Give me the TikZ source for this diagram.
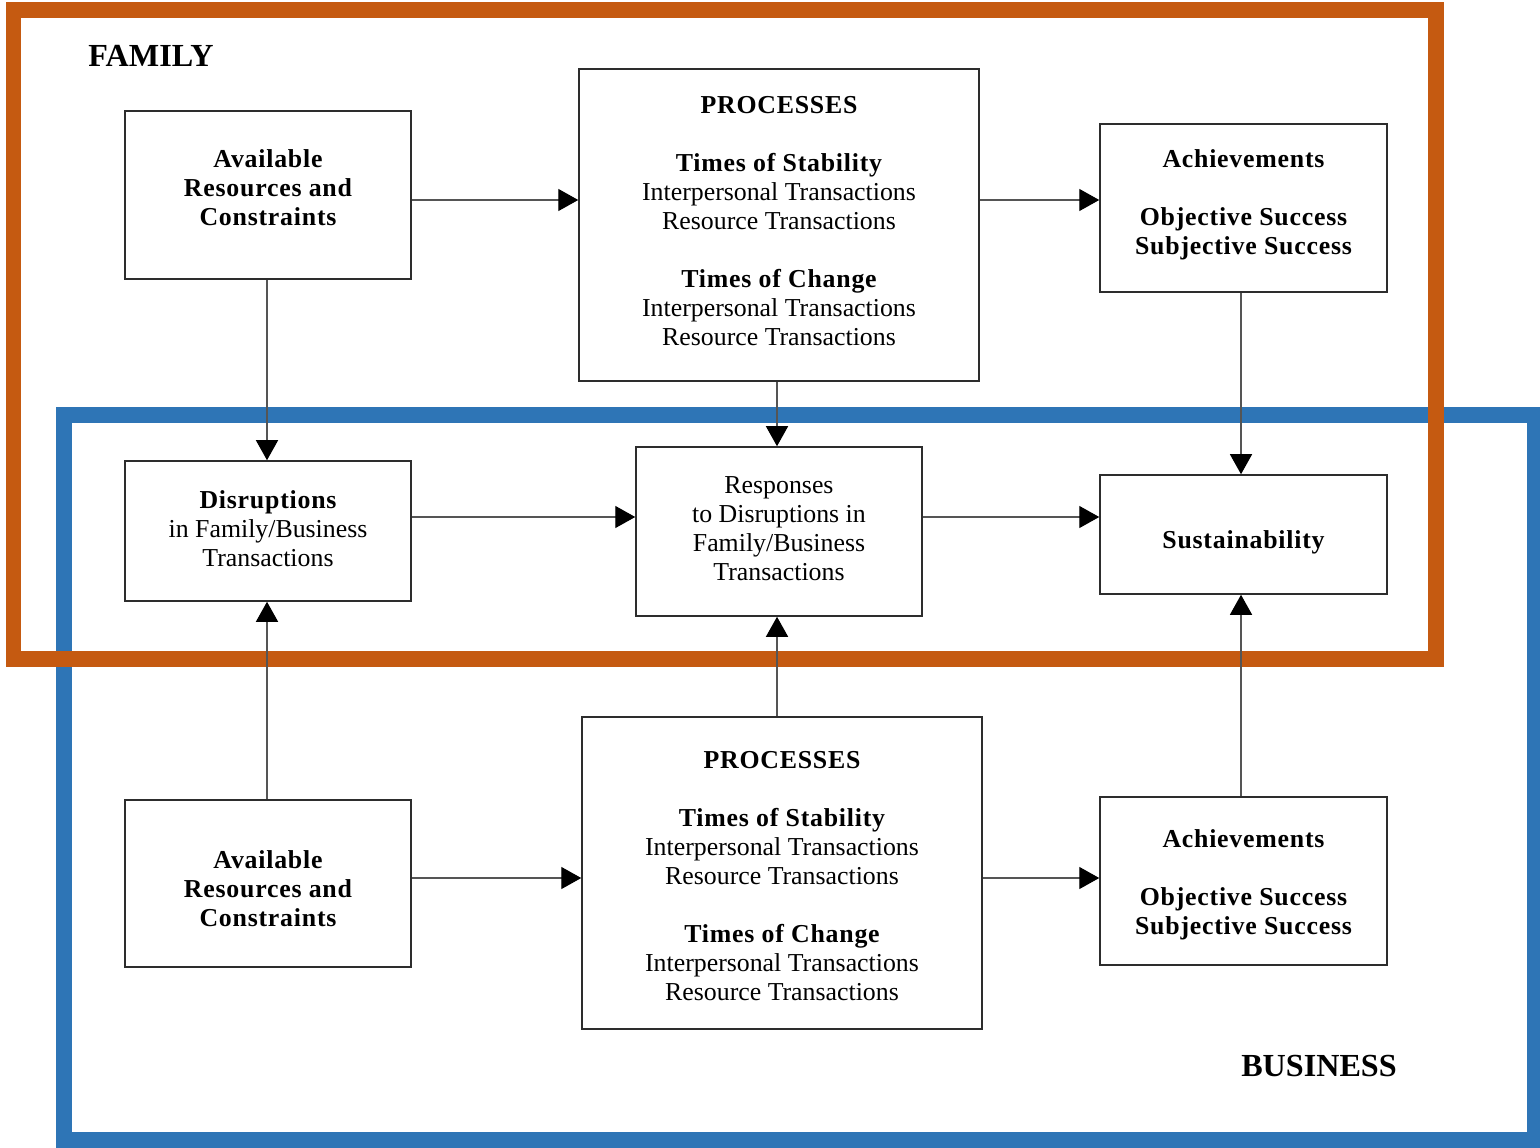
\documentclass[tikz,border=0pt]{standalone}
\usepackage{fontspec}
\setmainfont{Liberation Serif}
\newfontfamily\spfont{Liberation Serif}[LetterSpace=3]
\usetikzlibrary{arrows.meta}
\definecolor{famorange}{RGB}{197,90,17}
\definecolor{busblue}{RGB}{46,117,182}
\definecolor{boxline}{RGB}{45,45,45}
\definecolor{connline}{RGB}{85,85,85}
\newcommand{\bsp}[1]{{\spfont\bfseries #1}}
\newcommand{\padlow}[1]{\rule[-#1]{0pt}{0pt}}
\newcommand{\padhigh}[1]{\rule{0pt}{#1}}
\begin{document}
\begin{tikzpicture}[x=0.02cm,y=-0.02cm,
  box/.style={draw=boxline, line width=0.9pt, align=center, inner sep=0pt, font=\fontsize{14.7}{16.5}\selectfont},
  conn/.style={draw=connline, line width=0.8pt, -{Triangle[length=0.4cm,width=0.44cm,color=black]}},
  frameline/.style={line width=0.32cm},
  title/.style={font=\fontsize{18.3}{20}\selectfont\bfseries, inner sep=0pt}
]
\useasboundingbox (0,0) rectangle (1540,1148);
\fill[white] (0,0) rectangle (1540,1148);

% frames
\draw[busblue, frameline] (64,415) rectangle (1535,1140);
\draw[famorange, frameline] (13.5,10) rectangle (1435.5,658.5);

% titles
\node[title] (family) at (151,56) {FAMILY};
\node[title] (business) at (1319,1066) {BUSINESS};

% family row
\node[box, minimum width=5.72cm, minimum height=3.36cm] (FA) at (268,195)
  {\bsp{Available}\\\bsp{Resources and}\\\bsp{Constraints}\padlow{8pt}};
\node[box, minimum width=8.0cm, minimum height=6.24cm] (FP) at (779,225)
  {\bsp{PROCESSES}\\[16.5pt]\bsp{Times of Stability}\\Interpersonal Transactions\\Resource Transactions\\[16.5pt]\bsp{Times of Change}\\Interpersonal Transactions\\Resource Transactions\padlow{4.5pt}};
\node[box, minimum width=5.74cm, minimum height=3.36cm] (FAch) at (1243.5,208)
  {\bsp{Achievements}\\[16.5pt]\bsp{Objective Success}\\\bsp{Subjective Success}\padlow{6.5pt}};

% middle row
\node[box, minimum width=5.72cm, minimum height=2.8cm] (Dis) at (268,531)
  {\bsp{Disruptions}\\in Family/Business\\Transactions\padlow{2.3pt}};
\node[box, minimum width=5.72cm, minimum height=3.38cm] (Resp) at (779,531.5)
  {Responses\\to Disruptions in\\Family/Business\\Transactions\padlow{3.4pt}};
\node[box, minimum width=5.74cm, minimum height=2.38cm] (Sust) at (1243.5,534.5)
  {\padhigh{19pt}\bsp{Sustainability}};

% business row
\node[box, minimum width=5.72cm, minimum height=3.34cm] (BA) at (268,883.5)
  {\padhigh{15.7pt}\bsp{Available}\\\bsp{Resources and}\\\bsp{Constraints}};
\node[box, minimum width=8.0cm, minimum height=6.24cm] (BP) at (782,873)
  {\padhigh{13.1pt}\bsp{PROCESSES}\\[16.5pt]\bsp{Times of Stability}\\Interpersonal Transactions\\Resource Transactions\\[16.5pt]\bsp{Times of Change}\\Interpersonal Transactions\\Resource Transactions};
\node[box, minimum width=5.74cm, minimum height=3.36cm] (BAch) at (1243.5,881)
  {\padhigh{14.5pt}\bsp{Achievements}\\[16.5pt]\bsp{Objective Success}\\\bsp{Subjective Success}};

% guide coordinates
\coordinate (r1) at (0,200);
\coordinate (r2) at (0,517);
\coordinate (r3) at (0,878);
\coordinate (c1) at (267,0);
\coordinate (c2) at (777,0);
\coordinate (c3) at (1241,0);

% connectors
\draw[conn] (FA.east |- r1) -- (FP.west |- r1);
\draw[conn] (FP.east |- r1) -- (FAch.west |- r1);
\draw[conn] (c1 |- FA.south) -- (c1 |- Dis.north);
\draw[conn] (c2 |- FP.south) -- (c2 |- Resp.north);
\draw[conn] (c3 |- FAch.south) -- (c3 |- Sust.north);
\draw[conn] (Dis.east |- r2) -- (Resp.west |- r2);
\draw[conn] (Resp.east |- r2) -- (Sust.west |- r2);
\draw[conn] (c1 |- BA.north) -- (c1 |- Dis.south);
\draw[conn] (c2 |- BP.north) -- (c2 |- Resp.south);
\draw[conn] (c3 |- BAch.north) -- (c3 |- Sust.south);
\draw[conn] (BA.east |- r3) -- (BP.west |- r3);
\draw[conn] (BP.east |- r3) -- (BAch.west |- r3);
\end{tikzpicture}
\end{document}
